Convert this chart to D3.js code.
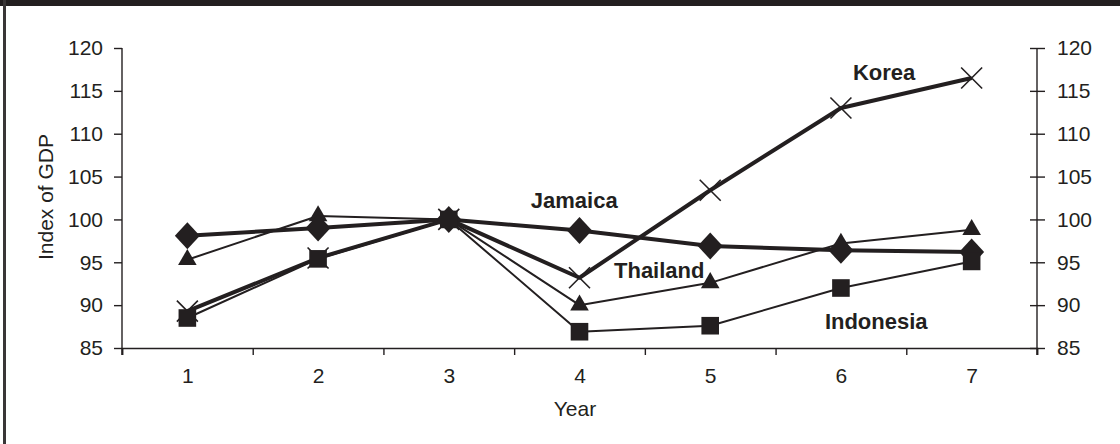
<!DOCTYPE html>
<html><head><meta charset="utf-8">
<script src="https://cdn.jsdelivr.net/npm/d3@7"></script>
<style>
html,body{margin:0;padding:0;background:#fff;}
svg{display:block;font-family:"Liberation Sans",Arial,sans-serif;}
</style></head>
<body>
<svg id="c" width="1120" height="444"></svg>
<script>
const years = [1, 2, 3, 4, 5, 6, 7];
const jamaica   = [98.1, 99.0, 100, 98.7, 96.9, 96.4, 96.2];
const korea     = [89.3, 95.5, 100, 93.2, 103.4, 113.0, 116.5];
const thailand  = [95.3, 100.4, 100, 90.0, 92.6, 97.2, 98.8];
const indonesia = [88.5, 95.4, 100, 86.9, 87.6, 92.0, 95.1];
const yTicks = [85, 90, 95, 100, 105, 110, 115, 120];
const seriesNames = ["Thailand", "Jamaica", "Korea", "Indonesia"];
const seriesValues = [thailand, jamaica, korea, indonesia];
const seriesMarkers = ["triangle", "diamond", "cross", "square"];
const seriesWidths = [2, 4, 4, 2];
const labelText = ["Jamaica", "Thailand", "Korea", "Indonesia"];
const labelYear = [3.96, 4.61, 6.33, 6.27];
const labelValue = [101.33, 93.17, 116.27, 87.22];

const ink = "#231f20";
const svg = d3.select("#c");

// frame: top bar and left border
svg.append("rect").attr("x", 0).attr("y", 0).attr("width", 1120).attr("height", 6).attr("fill", ink);
svg.append("rect").attr("x", 3).attr("y", 0).attr("width", 3).attr("height", 444).attr("fill", "#3a3637");

const x = d3.scaleLinear().domain([0.5, 7.5]).range([122, 1037]);
const y = d3.scaleLinear().domain([85, 120]).range([348, 48]);

const fontSize = 21;

// bottom axis (boundary ticks)
const gx = svg.append("g").attr("transform", "translate(0,348)")
  .call(d3.axisBottom(x).tickValues(d3.range(0.5, 8, 1)).tickSize(7).tickFormat(""));
gx.select(".domain").attr("stroke", ink).attr("stroke-width", 1.6);
gx.selectAll(".tick line").attr("stroke", ink).attr("stroke-width", 1.4);

// bottom labels
const gxl = svg.append("g").attr("transform", "translate(0,348)")
  .call(d3.axisBottom(x).tickValues(years).tickSize(0).tickFormat(d3.format("d")));
gxl.select(".domain").remove();
gxl.selectAll("text").attr("y", 35).attr("dy", 0).attr("font-size", fontSize)
  .attr("fill", ink).attr("font-family", "Liberation Sans, Arial, sans-serif");

// left axis
const gl = svg.append("g").attr("transform", "translate(122,0)")
  .call(d3.axisLeft(y).tickValues(yTicks).tickSize(8).tickPadding(11).tickFormat(d3.format("d")));
gl.select(".domain").attr("stroke", ink).attr("stroke-width", 1.4).attr("d", "M0,48V355");
gl.selectAll(".tick line").attr("stroke", ink).attr("stroke-width", 1.4);
gl.selectAll("text").attr("font-size", fontSize).attr("fill", ink)
  .attr("font-family", "Liberation Sans, Arial, sans-serif");

// right axis (crossing ticks)
const gr = svg.append("g").attr("transform", "translate(1037,0)")
  .call(d3.axisRight(y).tickValues(yTicks).tickSize(8).tickPadding(12).tickFormat(d3.format("d")));
gr.select(".domain").attr("stroke", ink).attr("stroke-width", 1.4).attr("d", "M0,48V355");
gr.selectAll(".tick line").attr("stroke", ink).attr("stroke-width", 1.4).attr("x1", -7);
gr.selectAll("text").attr("font-size", fontSize).attr("fill", ink)
  .attr("font-family", "Liberation Sans, Arial, sans-serif");

// axis titles
svg.append("text").attr("x", 575).attr("y", 416).attr("text-anchor", "middle")
  .attr("font-size", fontSize).attr("fill", ink).text("Year");
svg.append("text").attr("transform", "translate(53,197) rotate(-90)").attr("text-anchor", "middle")
  .attr("font-size", fontSize).attr("fill", ink).text("Index of GDP");

// series
const line = d3.line().x((d, i) => x(years[i])).y(d => y(d));
const sym = {
  triangle: d3.symbol().type(d3.symbolTriangle).size(150),
  square: d3.symbol().type(d3.symbolSquare).size(310)
};
seriesValues.forEach((vals, si) => {
  const g = svg.append("g").attr("class", "series").attr("data-name", seriesNames[si]);
  g.append("path").attr("d", line(vals)).attr("fill", "none")
    .attr("stroke", ink).attr("stroke-width", seriesWidths[si]).attr("stroke-linejoin", "round");
  const m = seriesMarkers[si];
  vals.forEach((v, i) => {
    const cx = x(years[i]), cy = y(v);
    if (m === "cross") {
      const r = 10.5;
      g.append("path").attr("d", `M${cx - r},${cy - r}L${cx + r},${cy + r}M${cx - r},${cy + r}L${cx + r},${cy - r}`)
        .attr("stroke", ink).attr("stroke-width", 1.6).attr("fill", "none");
    } else if (m === "diamond") {
      const w = 12.5, h = 13.5;
      g.append("path").attr("d", `M${cx},${cy - h}L${cx + w},${cy}L${cx},${cy + h}L${cx - w},${cy}Z`)
        .attr("fill", ink);
    } else {
      g.append("path").attr("d", sym[m]()).attr("fill", ink)
        .attr("transform", `translate(${cx},${cy})`);
    }
  });
});

// annotations
labelText.forEach((t, i) => {
  svg.append("text").attr("x", x(labelYear[i])).attr("y", y(labelValue[i]))
    .attr("text-anchor", "middle").attr("font-size", 22).attr("font-weight", "bold")
    .attr("fill", ink).text(t);
});
</script>
</body></html>
